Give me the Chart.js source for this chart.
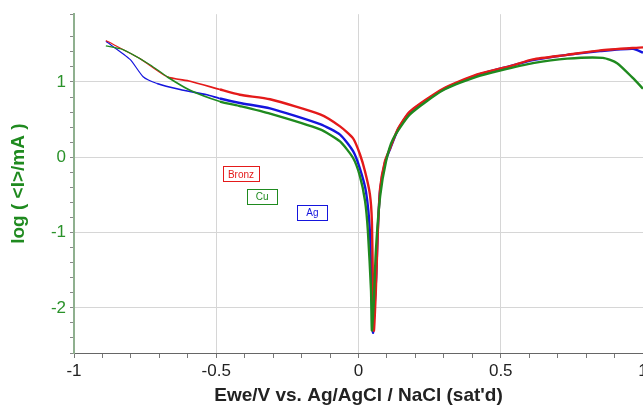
<!DOCTYPE html>
<html>
<head>
<meta charset="utf-8">
<script src="https://cdn.jsdelivr.net/npm/chart.js@4/dist/chart.umd.min.js"></script>
<style>
  body { margin: 0; background: #fff; }
  #wrap { width: 643px; height: 407px; }
</style>
</head>
<body>
<div id="wrap"><canvas id="tafel" width="643" height="407"></canvas></div>
<script>
// potentials (V) and log current for each sample
const bronzE = [-0.888, -0.768, -0.673, -0.592, -0.487, -0.417, -0.311, -0.135, -0.065, -0.019, 0.005, 0.023, 0.040, 0.047, 0.054,
                0.061, 0.068, 0.076, 0.093, 0.111, 0.139, 0.181, 0.297, 0.417, 0.533, 0.613, 0.733, 0.849, 1.0];
const bronzLog = [1.55, 1.31, 1.07, 1.01, 0.90, 0.83, 0.77, 0.57, 0.41, 0.25, 0.04, -0.19, -0.49, -0.85, -2.30,
                  -1.77, -0.98, -0.41, -0.05, 0.12, 0.38, 0.61, 0.91, 1.10, 1.21, 1.30, 1.36, 1.42, 1.46];

const cuE = [-0.888, -0.828, -0.733, -0.673, -0.592, -0.487, -0.417, -0.311, -0.135, -0.065, -0.019, 0.005, 0.023, 0.033, 0.044, 0.047,
             0.054, 0.061, 0.076, 0.097, 0.121, 0.181, 0.297, 0.417, 0.497, 0.613, 0.733, 0.859, 0.909, 0.965, 1.0];
const cuLog = [1.48, 1.43, 1.23, 1.07, 0.89, 0.74, 0.68, 0.58, 0.37, 0.21, -0.01, -0.25, -0.58, -0.98, -1.77, -2.30,
               -1.91, -1.25, -0.52, -0.05, 0.24, 0.57, 0.89, 1.07, 1.15, 1.25, 1.31, 1.32, 1.25, 1.05, 0.91];

const agE = [-0.888, -0.803, -0.757, -0.708, -0.627, -0.533, -0.487, -0.417, -0.311, -0.135, -0.065, -0.019, 0.005, 0.026, 0.040, 0.047, 0.051,
             0.056, 0.062, 0.068, 0.076, 0.093, 0.111, 0.139, 0.181, 0.297, 0.417, 0.533, 0.613, 0.733, 0.849, 0.965, 1.0];
const agLog = [1.54, 1.30, 1.07, 0.98, 0.90, 0.83, 0.78, 0.72, 0.65, 0.44, 0.30, 0.08, -0.15, -0.45, -0.98, -1.91, -2.33,
               -2.0, -1.6, -0.95, -0.44, -0.07, 0.11, 0.37, 0.60, 0.90, 1.09, 1.21, 1.29, 1.36, 1.41, 1.44, 1.39];

// tag boxes placed in data coordinates
const tags = [
  { text: 'Bronz', x: -0.413, y: -0.22, color: '#e41a1a' },
  { text: 'Cu', x: -0.339, y: -0.52, color: '#1f8a1f' },
  { text: 'Ag', x: -0.162, y: -0.73, color: '#1515dd' }
];

const COLORS = { bronz: '#e41a1a', cu: '#1f8a1f', ag: '#1515dd' };

function toPoints(xs, ys) {
  return xs.map((x, i) => ({ x: x, y: ys[i] }));
}

function isMultiple(v, step) {
  const r = v / step;
  return Math.abs(r - Math.round(r)) < 1e-6;
}

// thinner stroke for the start of the sweep, getting heavier towards Ecorr
const segWidth = ctx => {
  const x = ctx.p0.parsed.x;
  if (x < -0.72) return 1.2;
  if (x < -0.5) return 1.7;
  return 2.4;
};

function series(label, xs, ys, color) {
  return {
    label: label,
    data: toPoints(xs, ys),
    borderColor: color,
    backgroundColor: color,
    borderWidth: 2.4,
    pointRadius: 0,
    showLine: true,
    tension: 0.2,
    segment: { borderWidth: segWidth }
  };
}

const tagPlugin = {
  id: 'tagBoxes',
  afterDatasetsDraw(chart) {
    const { ctx, scales: { x, y } } = chart;
    ctx.save();
    ctx.font = '10px "Liberation Sans", Arial, sans-serif';
    ctx.textAlign = 'center';
    ctx.textBaseline = 'middle';
    tags.forEach(t => {
      const cx = x.getPixelForValue(t.x);
      const cy = y.getPixelForValue(t.y);
      const w = Math.max(ctx.measureText(t.text).width + 10, 30);
      const h = 15;
      ctx.fillStyle = '#fff';
      ctx.fillRect(cx - w / 2, cy - h / 2, w, h);
      ctx.strokeStyle = t.color;
      ctx.lineWidth = 1;
      ctx.strokeRect(Math.round(cx - w / 2) + 0.5, Math.round(cy - h / 2) + 0.5, Math.round(w), h);
      ctx.fillStyle = t.color;
      ctx.fillText(t.text, cx, cy + 1);
    });
    ctx.restore();
  }
};

new Chart(document.getElementById('tafel'), {
  type: 'scatter',
  data: {
    datasets: [
      series('Cu', cuE, cuLog, COLORS.cu),
      series('Bronz', bronzE, bronzLog, COLORS.bronz),
      series('Ag', agE, agLog, COLORS.ag)
    ]
  },
  options: {
    responsive: false,
    animation: false,
    devicePixelRatio: 1,
    layout: { padding: { top: 13, right: 0, left: 0, bottom: 0 } },
    plugins: {
      legend: { display: false },
      tooltip: { enabled: false }
    },
    scales: {
      x: {
        type: 'linear',
        min: -1,
        max: 1,
        afterFit(scale) {
          scale.height = 54;
          scale.paddingRight = 0;
        },
        border: { color: '#666', width: 1 },
        grid: {
          color: c => (isMultiple(c.tick.value, 0.5) ? '#d6d6d6' : 'rgba(0,0,0,0)'),
          tickColor: '#777',
          tickLength: 5
        },
        ticks: {
          stepSize: 0.1,
          autoSkip: false,
          maxRotation: 0,
          padding: 3,
          color: '#222',
          font: { family: '"Liberation Sans", Arial, sans-serif', size: 17 },
          callback: v => (isMultiple(v, 0.5) ? String(Math.round(v * 10) / 10) : '')
        },
        title: {
          display: true,
          text: "Ewe/V vs. Ag/AgCl / NaCl (sat'd)",
          color: '#222',
          padding: { top: 0, bottom: 0 },
          font: { family: '"Liberation Sans", Arial, sans-serif', size: 19, weight: 'bold' }
        }
      },
      y: {
        type: 'linear',
        min: -2.6,
        max: 1.9,
        afterFit(scale) {
          scale.width = 74;
        },
        border: { color: '#8fb08f', width: 2 },
        grid: {
          color: c => (isMultiple(c.tick.value, 1) ? '#d6d6d6' : 'rgba(0,0,0,0)'),
          tickColor: '#888',
          tickLength: 4
        },
        ticks: {
          stepSize: 0.2,
          autoSkip: false,
          padding: 4,
          color: '#2a922a',
          font: { family: '"Liberation Sans", Arial, sans-serif', size: 17 },
          callback: v => (isMultiple(v, 1) ? String(Math.round(v)) : '')
        },
        title: {
          display: true,
          text: 'log ( <I>/mA )',
          color: '#1f8a1f',
          padding: { top: 7, bottom: 0 },
          font: { family: '"Liberation Sans", Arial, sans-serif', size: 19, weight: 'bold' }
        }
      }
    }
  },
  plugins: [tagPlugin]
});
</script>
</body>
</html>
